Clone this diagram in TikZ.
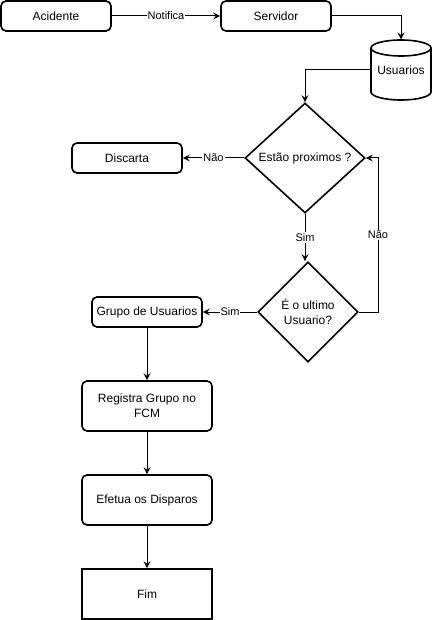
\documentclass[tikz,border=0pt]{standalone}
\usepackage{fontspec}
\setmainfont{Liberation Sans}
\usetikzlibrary{arrows.meta,shapes.geometric}

\begin{document}
\begin{tikzpicture}[x=1pt, y=-1pt, line width=1pt,
                    every node/.style={font=\fontsize{12}{15}\selectfont, align=center},
                    box/.style={draw, rounded corners=5pt, line width=1.6pt,
                                minimum width=110pt, minimum height=30pt, inner sep=1pt},
                    bigbox/.style={box, minimum width=130pt, minimum height=50pt},
                    decision/.style={draw, diamond, line width=1.6pt, inner sep=0pt},
                    lbl/.style={fill=white, inner sep=1pt, font=\fontsize{11}{13}\selectfont},
                    arr/.style={-{Stealth[length=7pt, width=7pt, inset=2.5pt]}}]
    \useasboundingbox (0,0) rectangle (432,620);

    \node[box] (aci) at (56,16)  {Acidente};
    \node[box] (srv) at (276,16) {Servidor};
    \node[minimum width=60pt, minimum height=60pt, inner sep=0pt] (usr) at (401,70) {Usuarios};
    \node[decision, minimum width=120pt, minimum height=110pt] (prox) at (305,158) {Estão proximos ?};
    \node[box] (desc) at (127,158) {Discarta};
    \node[decision, minimum width=100pt, minimum height=100pt] (ult) at (308,312) {É o ultimo\\Usuario?};
    \node[box] (grp) at (147,312) {Grupo de Usuarios};
    \node[bigbox] (reg) at (147,406) {Registra Grupo no\\FCM};
    \node[bigbox] (efe) at (147,500) {Efetua os Disparos};
    \node[bigbox, rounded corners=0pt] (fim) at (147,594) {Fim};
    \coordinate (volta) at (378,158);

    % cilindro
    \draw[line width=1.6pt] (401,48) ellipse (30 and 8);
    \draw[line width=1.6pt] (371,48) -- (371,92)
        arc[start angle=180, end angle=0, x radius=30, y radius=8] -- (431,48);

    \draw[arr] (aci) -- node[lbl] {Notifica} (srv);
    \draw[arr] (srv.east) -| (usr.north);
    \draw[arr] (usr.west) -| (prox.north);
    \draw[arr] (prox.west) -- node[lbl] {Não} (desc.east);
    \draw[arr] (prox.south) -- node[lbl] {Sim} (prox.south |- ult.north);
    \draw[arr] (ult.east) -| node[lbl, pos=0.75] {Não} (volta) -- (prox.east);
    \draw[arr] (ult.west) -- node[lbl] {Sim} (grp.east);
    \draw[arr] (grp) -- (reg);
    \draw[arr] (reg) -- (efe);
    \draw[arr] (efe) -- (fim);
\end{tikzpicture}
\end{document}
